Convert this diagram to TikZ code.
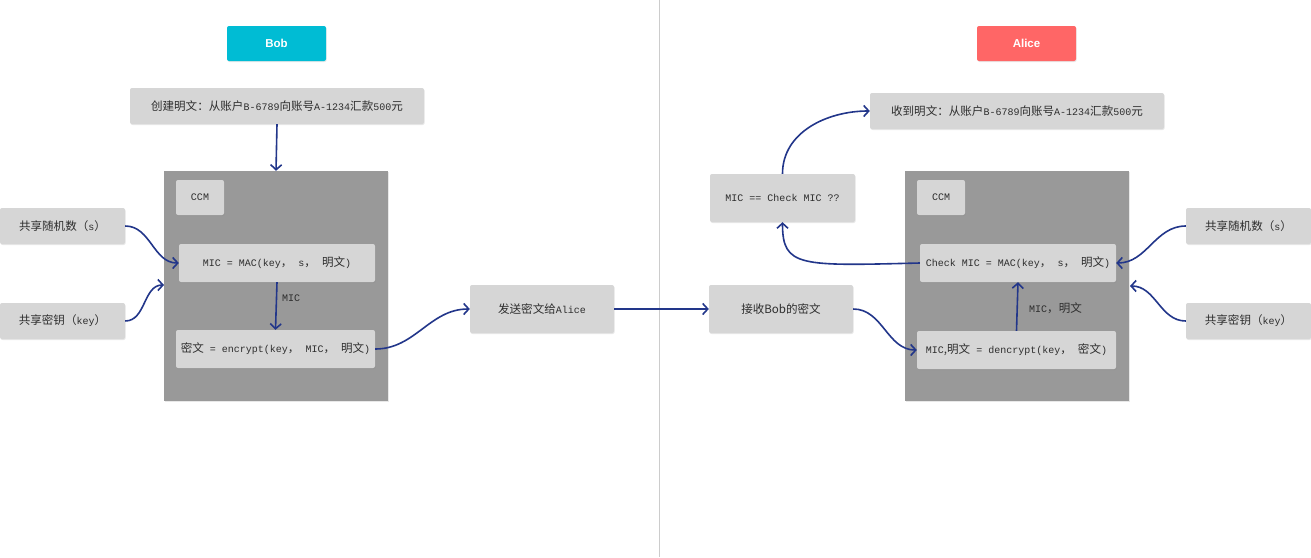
\documentclass[tikz,border=0pt]{standalone}
\usepackage{fontspec}
\setmainfont{Liberation Mono}[Scale=0.91]
\newfontfamily\cjkf{Noto Sans CJK SC}[Scale=1.05]
\newfontfamily\labf{Liberation Sans}
\usetikzlibrary{arrows.meta,shadows}
\newcommand\cj[1]{{\cjkf #1}}
\newcommand\fs{\fontsize{11}{13}\selectfont}
\definecolor{boxg}{HTML}{D6D6D6}
\definecolor{bigg}{HTML}{999999}
\definecolor{txt}{HTML}{2E2E2E}
\definecolor{arr}{HTML}{22368A}
\definecolor{bobc}{HTML}{00BCD4}
\definecolor{alic}{HTML}{FF6666}
\definecolor{divc}{HTML}{CCCCCC}
\begin{document}
\begin{tikzpicture}[x=1pt,y=-1pt,
  box/.style={fill=boxg, rounded corners=2pt, inner sep=0pt, text=txt, font=\fs,
    drop shadow={shadow xshift=0.6pt, shadow yshift=-1pt, opacity=0.18}},
  big/.style={fill=bigg, inner sep=0pt,
    drop shadow={shadow xshift=0.6pt, shadow yshift=-1pt, opacity=0.18}},
  who/.style={rounded corners=2pt, inner sep=0pt, text=white, font=\labf\bfseries\fontsize{11.5}{13}\selectfont,
    minimum width=99pt, minimum height=35pt,
    drop shadow={shadow xshift=0.6pt, shadow yshift=-1pt, opacity=0.18}},
  lbl/.style={inner sep=0pt, text=txt, font=\fs, anchor=west},
  conn/.style={draw=arr, line width=1.6pt, -{Straight Barb[length=5pt,width=11pt]}}
]
\useasboundingbox (0,0) rectangle (1311,557);
\fill[white] (0,0) rectangle (1311,557);
\draw[divc, line width=1pt] (659,0) -- (659,557);

% headers
\node[who, fill=bobc] (bob) at (276.5,43.5) {Bob};
\node[who, fill=alic] (alice) at (1026.5,43.5) {Alice};

% ---------- Bob side ----------
\node[box, minimum width=294pt, minimum height=36pt] (p1) at (277,106)
  {\cj{创建明文：从账户}B-6789\cj{向账号}A-1234\cj{汇款}500\cj{元}};
\node[big, minimum width=224pt, minimum height=230pt] (ccm1) at (276,286) {};
\node[box, minimum width=48pt, minimum height=35pt] (ccmA) at (200,197.5) {CCM};
\node[box, minimum width=125pt, minimum height=36pt] (s1) at (62.5,226) {\cj{共享随机数（}s\cj{）}};
\node[box, minimum width=125pt, minimum height=36pt] (k1) at (62.5,321) {\cj{共享密钥（}key\cj{）}};
\node[box, minimum width=196pt, minimum height=38pt] (mac) at (277,263)
  {MIC = MAC(key\cj{，} s\cj{，} \cj{明文})};
\node[box, minimum width=199pt, minimum height=38pt] (enc) at (275.5,349)
  {\cj{密文} = encrypt(key\cj{，} MIC\cj{，} \cj{明文})};
\node[lbl] (micl) at (282,298) {MIC};
\node[box, minimum width=144pt, minimum height=48pt] (send) at (542,309) {\cj{发送密文给}Alice};
\coordinate (k1end) at (164,285);

% ---------- Alice side ----------
\node[box, minimum width=144pt, minimum height=48pt] (recv) at (781,309) {\cj{接收Bob的密文}};
\node[big, minimum width=224pt, minimum height=230pt] (ccm2) at (1017,286) {};
\node[box, minimum width=48pt, minimum height=35pt] (ccmB) at (941,197.5) {CCM};
\node[box, minimum width=196pt, minimum height=38pt] (chk) at (1018,263)
  {Check MIC = MAC(key\cj{，} s\cj{，} \cj{明文})};
\node[box, minimum width=199pt, minimum height=38pt] (dec) at (1016.5,350)
  {MIC\cj{,明文} = dencrypt(key\cj{，} \cj{密文})};
\node[lbl] (micl2) at (1029,308) {MIC\cj{，明文}};
\node[box, minimum width=125pt, minimum height=36pt] (s2) at (1248.5,226) {\cj{共享随机数（}s\cj{）}};
\node[box, minimum width=125pt, minimum height=36pt] (k2) at (1248.5,321) {\cj{共享密钥（}key\cj{）}};
\node[box, minimum width=145pt, minimum height=48pt] (mic) at (782.5,198) {MIC == Check MIC ??};
\node[box, minimum width=294pt, minimum height=36pt] (rcv) at (1017,111)
  {\cj{收到明文：从账户}B-6789\cj{向账号}A-1234\cj{汇款}500\cj{元}};
\coordinate (k2end) at (1130,286);

% ---------- connectors ----------
\draw[conn] (p1.south) -- (ccm1.north);
\draw[conn] (s1.east) to[out=0,in=180] (mac.west);
\draw[conn] (k1.east) to[out=0,in=180] (k1end);
\draw[conn] (mac.south) -- (enc.north);
\draw[conn] (enc.east) to[out=0,in=180] (send.west);
\draw[conn] (send.east) -- (recv.west);
\draw[conn] (recv.east) to[out=0,in=180] (dec.west);
\draw[conn] (dec.north) -- (chk.south);
\draw[conn] (s2.west) to[out=180,in=0] (chk.east);
\draw[conn] (k2.west) to[out=180,in=0] (k2end);
\draw[conn] (chk.west) .. controls +(-120,3) and +(0,45) .. (mic.south);
\draw[conn] (mic.north) to[out=90,in=180] (rcv.west);
\end{tikzpicture}
\end{document}
